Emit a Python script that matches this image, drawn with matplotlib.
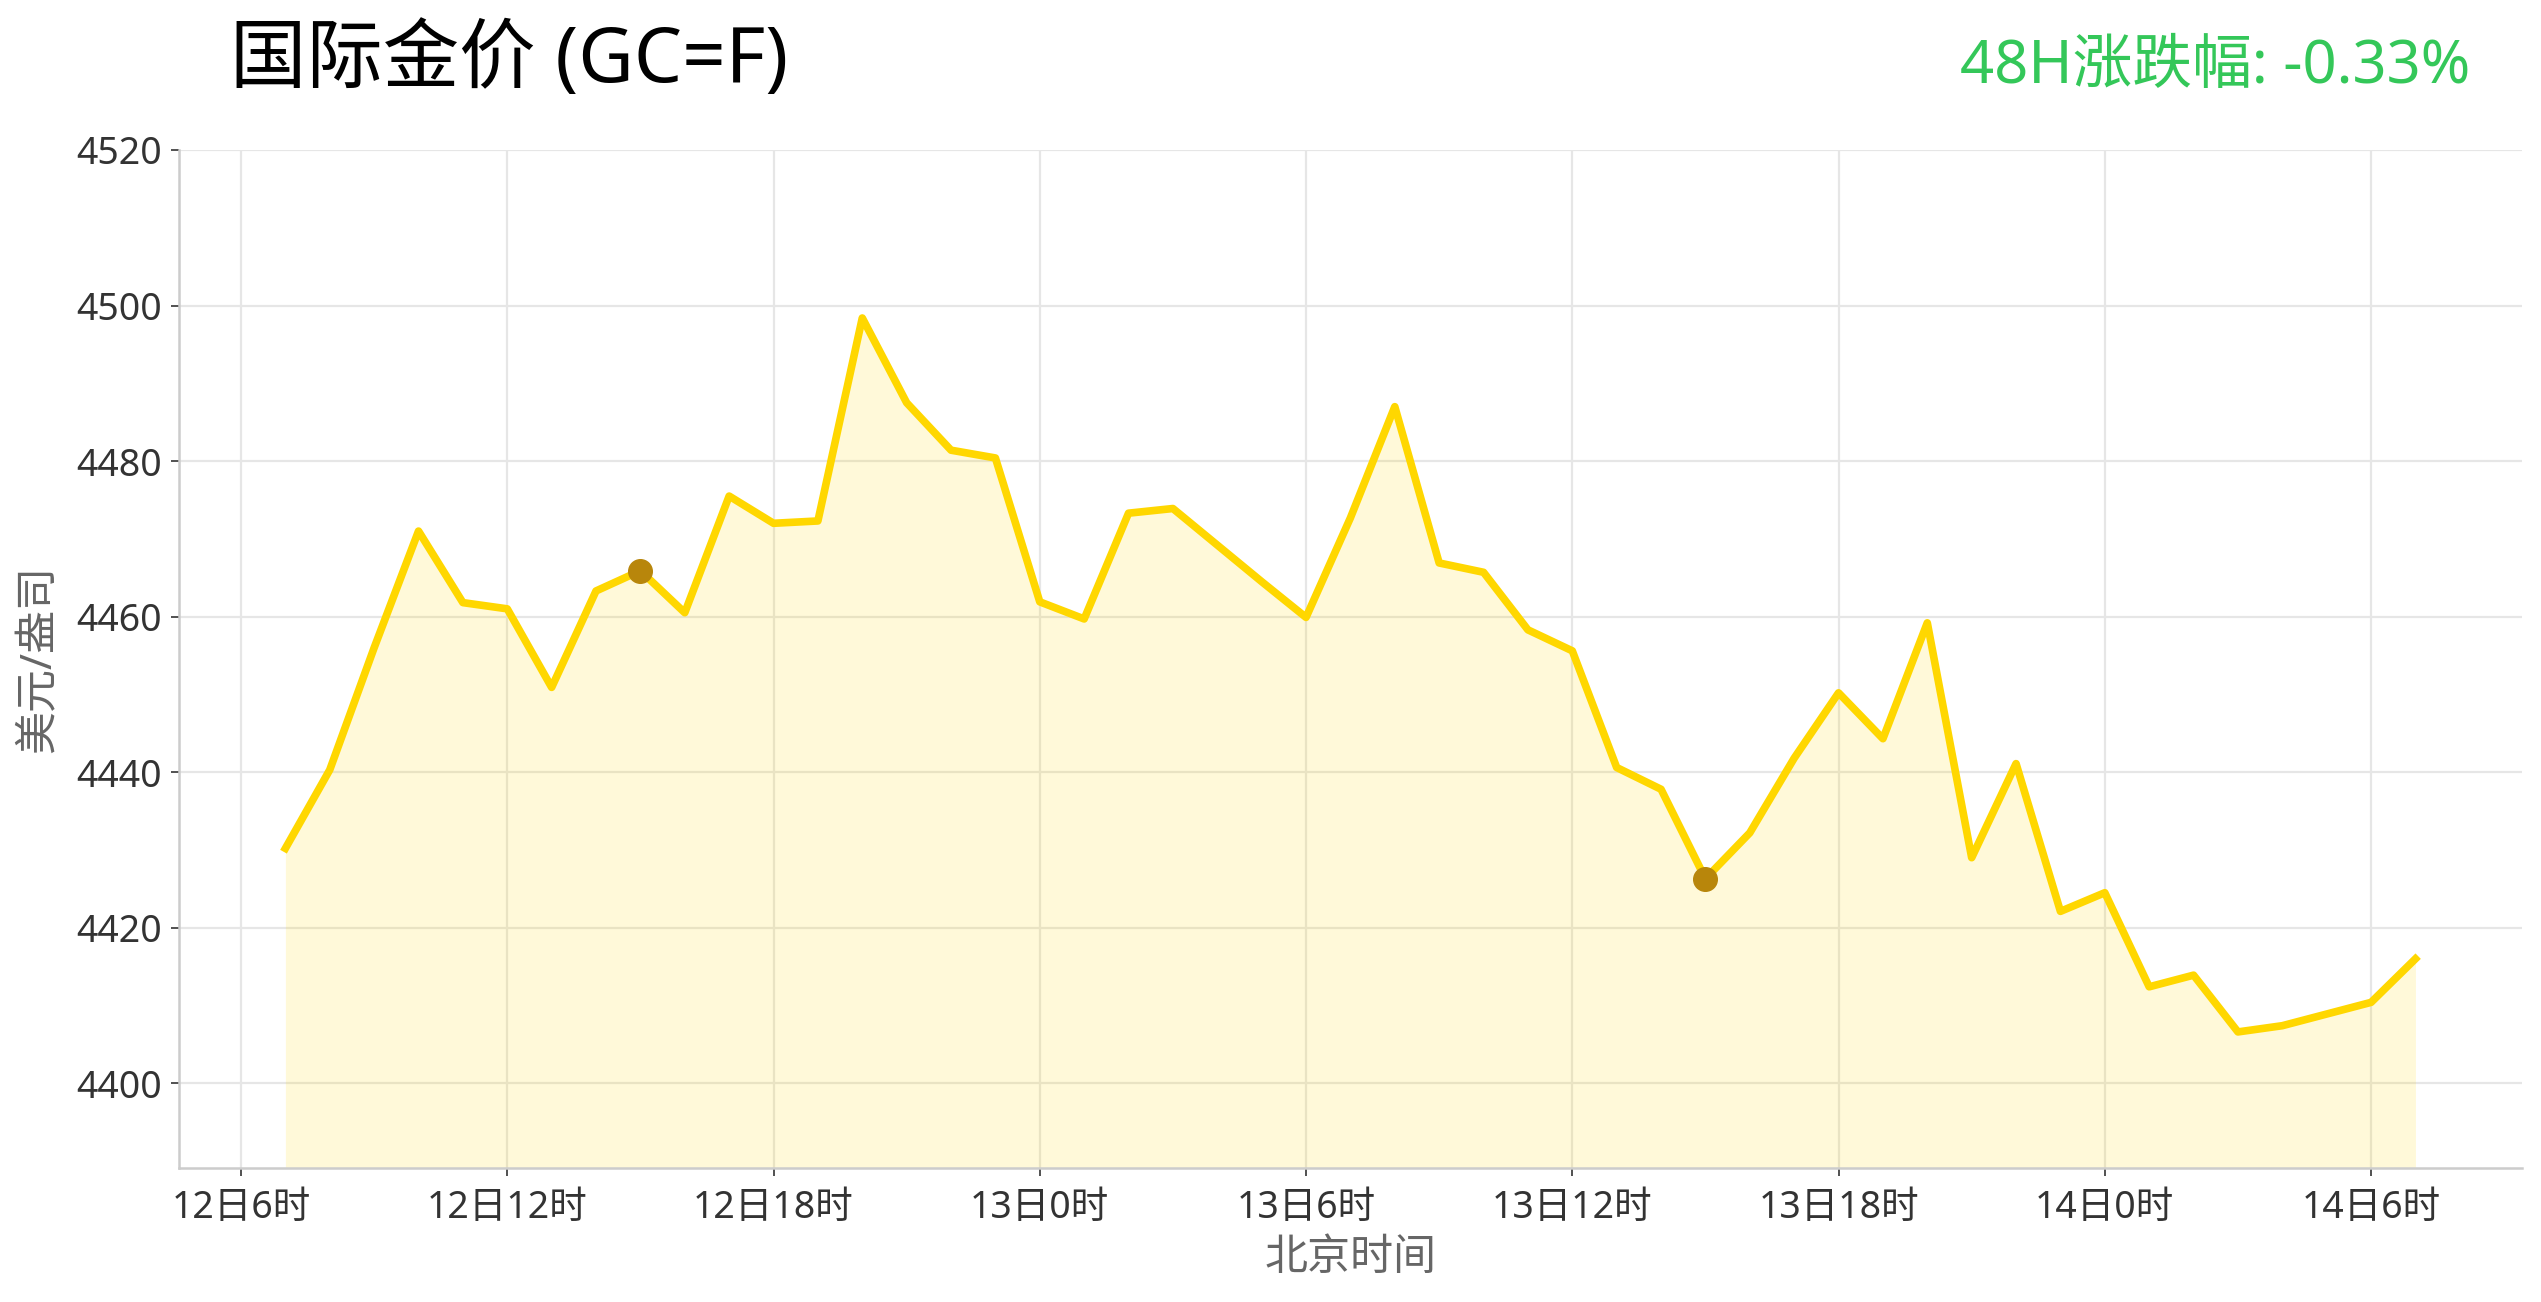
import numpy as np
import matplotlib
matplotlib.use("Agg")
import matplotlib.pyplot as plt

plt.rcParams['font.family'] = ['Noto Sans', 'Noto Sans CJK SC', 'DejaVu Sans']

# hours counted from 12日0时
hours = list(range(7, 56))
prices = [
    4430.2, 4440.3, 4456.0, 4471.0, 4461.8, 4461.0, 4450.9, 4463.3, 4465.9,
    4460.5, 4475.5, 4472.0, 4472.3, 4498.4, 4487.5, 4481.4, 4480.4,
    4461.9, 4459.7, 4473.3, 4473.9, 4469.2, 4464.5, 4459.9, 4472.7, 4487.0,
    4466.9, 4465.7, 4458.3, 4455.6, 4440.6, 4437.8, 4426.3, 4432.2, 4441.8,
    4450.2, 4444.3, 4459.2, 4429.0, 4441.1, 4422.1,
    4424.5, 4412.4, 4413.9, 4406.6, 4407.4, 4408.9, 4410.4, 4416.0,
]
mark_hours = [15, 39]
tick_hours = [6, 12, 18, 24, 30, 36, 42, 48, 54]
tick_labels = ['12日6时', '12日12时', '12日18时', '13日0时', '13日6时',
               '13日12时', '13日18时', '14日0时', '14日6时']
y_ticks = [4400, 4420, 4440, 4460, 4480, 4500, 4520]
y_min, y_max = 4389.1, 4520

title = '国际金价 (GC=F)'
change_text = '48H涨跌幅: -0.33%'

fig = plt.figure(figsize=(25.41, 13.02), dpi=100)
ax = fig.add_axes([0.0704, 0.1029, 0.9221, 0.7819])

ax.fill_between(hours, prices, y_min, color='#FFD700', alpha=0.15, lw=0, zorder=2)
ax.plot(hours, prices, color='#FFD700', lw=5.5, zorder=3)
mx = [h for h in hours if h in mark_hours]
my = [prices[hours.index(h)] for h in mx]
ax.plot(mx, my, 'o', color='#B8860B', ms=17, zorder=4)

ax.set_ylim(y_min, y_max)
ax.set_yticks(y_ticks)
ax.set_xticks(tick_hours)
ax.set_xticklabels(tick_labels)
ax.margins(x=0.05)

ax.grid(True, color='#e6e6e6', lw=1.6)
ax.set_axisbelow(True)
for s in ['top', 'right']:
    ax.spines[s].set_visible(False)
for s in ['left', 'bottom']:
    ax.spines[s].set_color('#cccccc')
    ax.spines[s].set_linewidth(1.8)

ax.tick_params(axis='both', labelsize=27, colors='#333333', length=6,
               width=1.2, pad=6)
ax.tick_params(axis='x', pad=9)

ax.set_xlabel('北京时间', fontsize=31, color='#666666', labelpad=7)
ax.set_ylabel('美元/盎司', fontsize=31, color='#666666', labelpad=11)

fig.text(0.0905, 0.937, title, fontsize=55, color='black', ha='left', va='baseline')
fig.text(0.972, 0.936, change_text, fontsize=43, color='#34C759', ha='right', va='baseline')

fig.savefig('out.png', dpi=100)
